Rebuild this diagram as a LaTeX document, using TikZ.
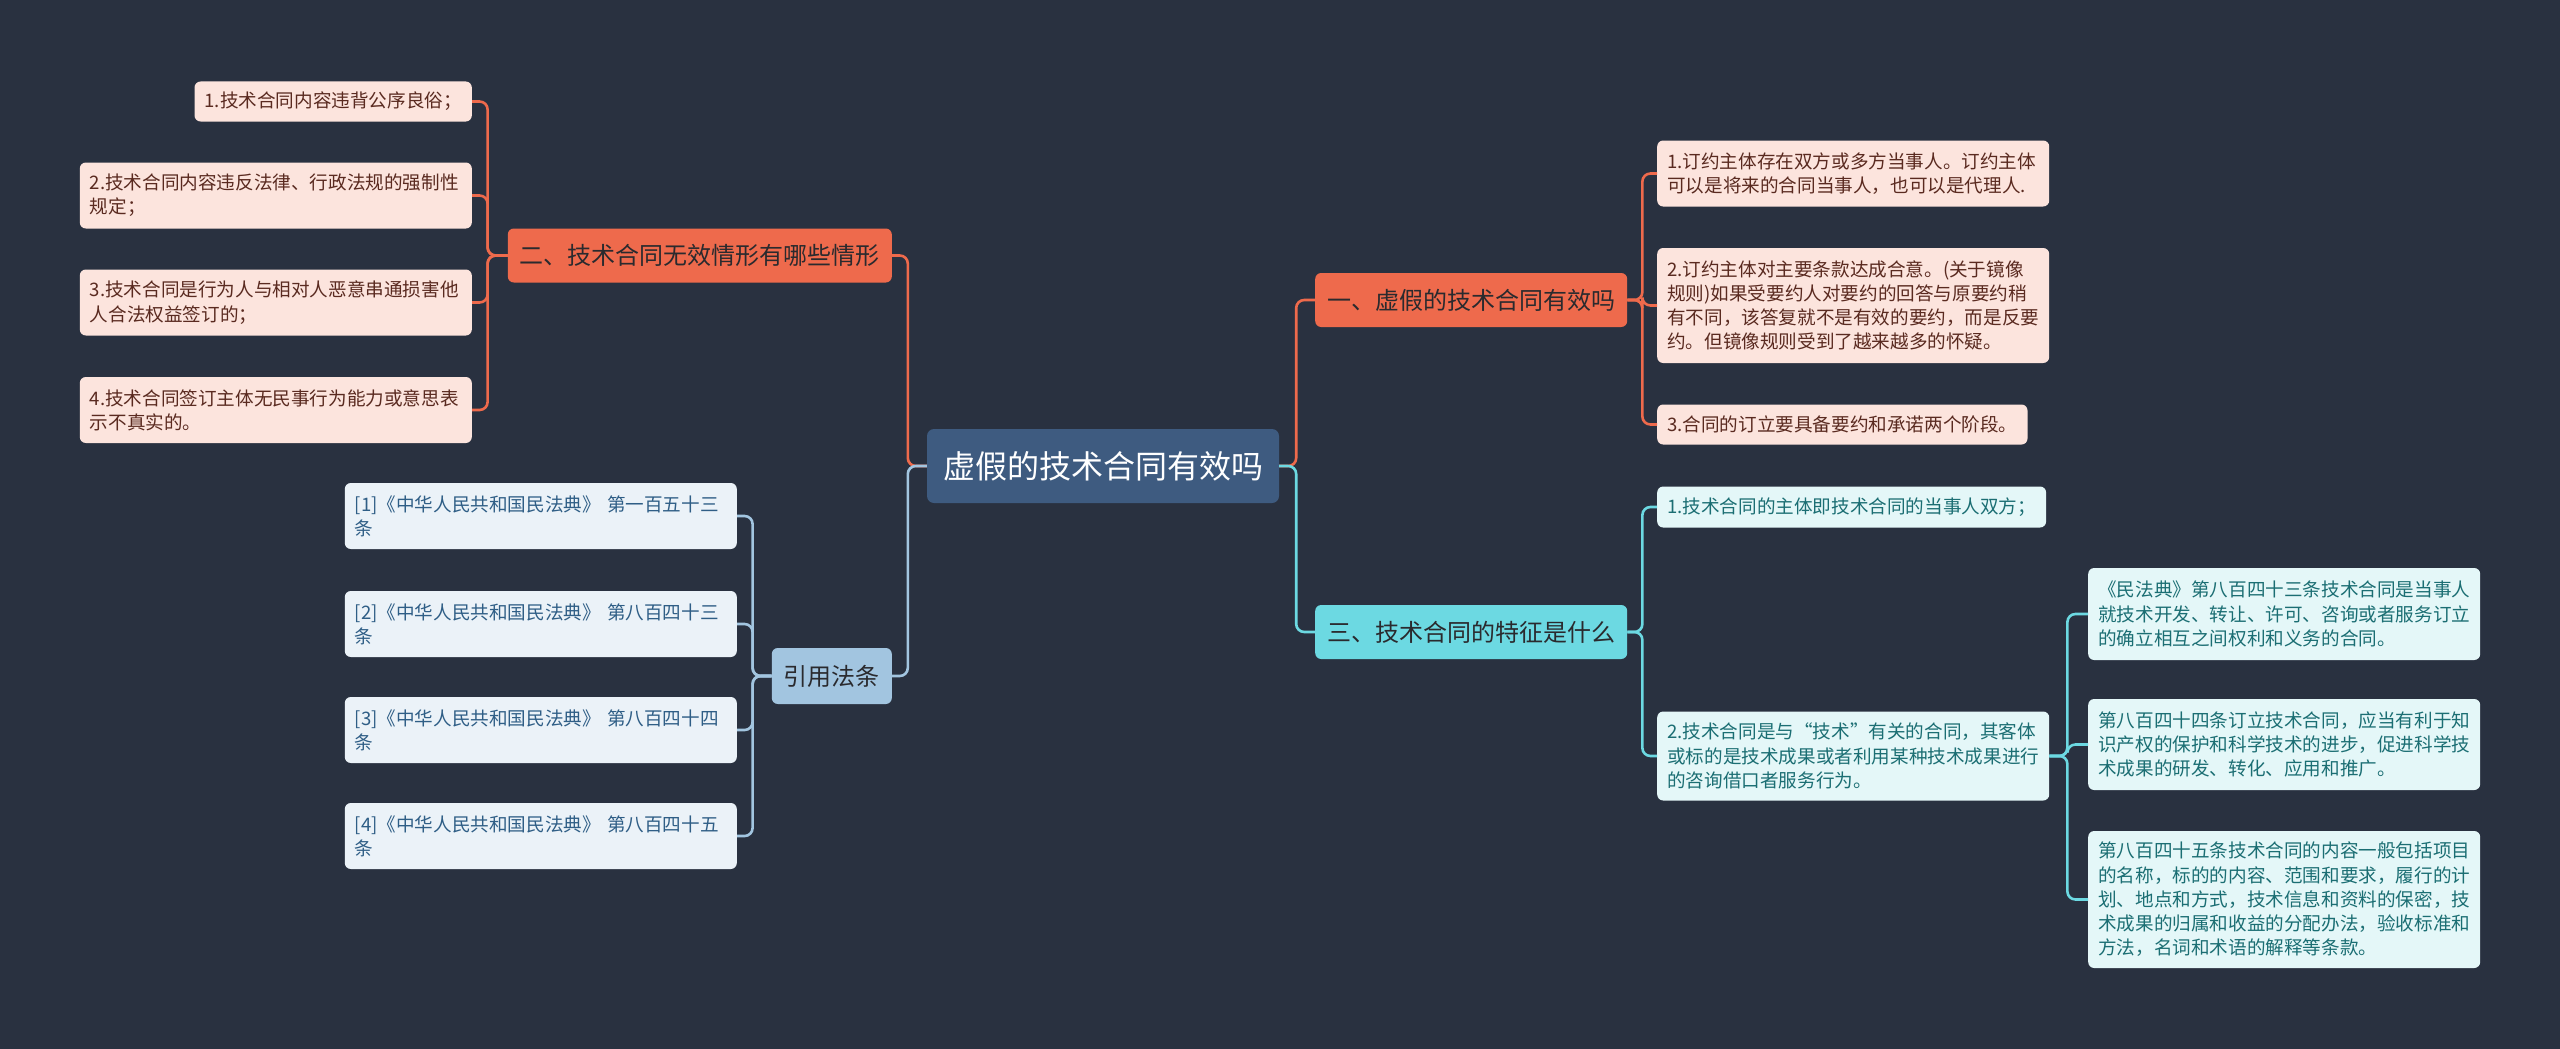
\documentclass[tikz,border=0pt]{standalone}
\usepackage{fontspec}
\newfontfamily\cjkfont{Noto Sans CJK SC}
\definecolor{cbg}{HTML}{293140}
\definecolor{croot}{HTML}{3E5B80}
\definecolor{corange}{HTML}{EE6A4C}
\definecolor{ccyan}{HTML}{6CD9E2}
\definecolor{ccite}{HTML}{A2C5E0}
\definecolor{cpink}{HTML}{FCE4DD}
\definecolor{cmint}{HTML}{E4F7F8}
\definecolor{cpale}{HTML}{EBF2F8}
\definecolor{cink}{HTML}{2A2A2E}
\definecolor{cbrown}{HTML}{5A2A20}
\definecolor{cteal}{HTML}{1B6E73}
\definecolor{cblue}{HTML}{2F5E86}

\begin{document}
\begin{tikzpicture}[
  x=1pt, y=-1pt,
  rootbox/.style={fill=croot, text=white, rounded corners=7pt, inner xsep=16pt,
                  minimum height=74pt, font=\cjkfont\fontsize{32}{38}\selectfont},
  topic/.style={rounded corners=6pt, inner xsep=12pt, minimum height=54pt,
                font=\cjkfont\fontsize{24}{30}\selectfont},
  redtopic/.style={topic, fill=corange, text=cink},
  cyantopic/.style={topic, fill=ccyan, text=cink},
  citetopic/.style={topic, fill=ccite, text=cink, minimum height=56pt},
  leaf/.style={rounded corners=6pt, inner xsep=10pt, inner ysep=0pt, align=left,
               font=\cjkfont\fontsize{18.6}{24.2}\selectfont},
  wide/.style={text width=372pt},
  redleaf/.style={leaf, fill=cpink, text=cbrown},
  cyanleaf/.style={leaf, fill=cmint, text=cteal},
  citeleaf/.style={leaf, fill=cpale, text=cblue},
  link/.style={line width=2.6pt, rounded corners=8pt},
  redlink/.style={link, draw=corange},
  cyanlink/.style={link, draw=ccyan},
  citelink/.style={link, draw=ccite}
]
\fill[cbg] (0,0) rectangle (2560,1049);
\useasboundingbox (0,0) rectangle (2560,1049);

% root
\node[rootbox] (root) at (1103,466) {虚假的技术合同有效吗};

% main topics
\node[redtopic, anchor=west] (b1) at (1315,300) {一、虚假的技术合同有效吗};
\node[cyantopic, anchor=west] (b3) at (1315,632) {三、技术合同的特征是什么};
\node[redtopic, anchor=east] (b2) at (892,255.5) {二、技术合同无效情形有哪些情形};
\node[citetopic, anchor=east] (cite) at (892,676) {引用法条};

% topic one
\node[redleaf, wide, anchor=west, minimum height=66pt] (l11) at (1657,173.5) {1.订约主体存在双方或多方当事人。订约主体\\可以是将来的合同当事人，也可以是代理人.};
\node[redleaf, wide, anchor=west, minimum height=115pt] (l12) at (1657,305.5) {2.订约主体对主要条款达成合意。(关于镜像\\规则)如果受要约人对要约的回答与原要约稍\\有不同，该答复就不是有效的要约，而是反要\\约。但镜像规则受到了越来越多的怀疑。};
\node[redleaf, anchor=west, minimum height=40pt] (l13) at (1657,424.5) {3.合同的订立要具备要约和承诺两个阶段。};

% topic two
\node[redleaf, anchor=east, minimum height=40pt] (l21) at (472,101.5) {1.技术合同内容违背公序良俗；};
\node[redleaf, wide, anchor=east, minimum height=66pt] (l22) at (472,195.5) {2.技术合同内容违反法律、行政法规的强制性\\规定；};
\node[redleaf, wide, anchor=east, minimum height=66pt] (l23) at (472,302.5) {3.技术合同是行为人与相对人恶意串通损害他\\人合法权益签订的；};
\node[redleaf, wide, anchor=east, minimum height=66pt] (l24) at (472,410) {4.技术合同签订主体无民事行为能力或意思表\\示不真实的。};

% topic three
\node[cyanleaf, anchor=west, minimum height=41pt] (l31) at (1657,507) {1.技术合同的主体即技术合同的当事人双方；};
\node[cyanleaf, wide, anchor=west, minimum height=89pt] (l32) at (1657,756) {2.技术合同是与“技术”有关的合同，其客体\\或标的是技术成果或者利用某种技术成果进行\\的咨询借口者服务行为。};
\node[cyanleaf, wide, anchor=west, minimum height=92pt] (s1) at (2088,614) {《民法典》第八百四十三条技术合同是当事人\\就技术开发、转让、许可、咨询或者服务订立\\的确立相互之间权利和义务的合同。};
\node[cyanleaf, wide, anchor=west, minimum height=91pt] (s2) at (2088,744.5) {第八百四十四条订立技术合同，应当有利于知\\识产权的保护和科学技术的进步，促进科学技\\术成果的研发、转化、应用和推广。};
\node[cyanleaf, wide, anchor=west, minimum height=137pt] (s3) at (2088,899.5) {第八百四十五条技术合同的内容一般包括项目\\的名称，标的的内容、范围和要求，履行的计\\划、地点和方式，技术信息和资料的保密，技\\术成果的归属和收益的分配办法，验收标准和\\方法，名词和术语的解释等条款。};

% cited articles
\node[citeleaf, wide, anchor=east, minimum height=66pt] (r1) at (737,516) {[1]《中华人民共和国民法典》~第一百五十三\\条};
\node[citeleaf, wide, anchor=east, minimum height=66pt] (r2) at (737,624) {[2]《中华人民共和国民法典》~第八百四十三\\条};
\node[citeleaf, wide, anchor=east, minimum height=66pt] (r3) at (737,730) {[3]《中华人民共和国民法典》~第八百四十四\\条};
\node[citeleaf, wide, anchor=east, minimum height=66pt] (r4) at (737,836) {[4]《中华人民共和国民法典》~第八百四十五\\条};

% links
\draw[redlink] (root.east) -- ++(17,0) |- (b1.west);
\draw[cyanlink] (root.east) -- ++(17,0) |- (b3.west);
\draw[redlink] (root.west) -- ++(-19,0) |- (b2.east);
\draw[citelink] (root.west) -- ++(-19,0) |- (cite.east);

\draw[redlink] (b1.east) -- ++(15,0) |- (l11.west);
\draw[redlink] (b1.east) -- ++(15,0) |- (l12.west);
\draw[redlink] (b1.east) -- ++(15,0) |- (l13.west);

\draw[redlink] (b2.west) -- ++(-20,0) |- (l21.east);
\draw[redlink] (b2.west) -- ++(-20,0) |- (l22.east);
\draw[redlink] (b2.west) -- ++(-20,0) |- (l23.east);
\draw[redlink] (b2.west) -- ++(-20,0) |- (l24.east);

\draw[cyanlink] (b3.east) -- ++(15,0) |- (l31.west);
\draw[cyanlink] (b3.east) -- ++(15,0) |- (l32.west);
\draw[cyanlink] (l32.east) -- ++(18,0) |- (s1.west);
\draw[cyanlink] (l32.east) -- ++(18,0) |- (s2.west);
\draw[cyanlink] (l32.east) -- ++(18,0) |- (s3.west);

\draw[citelink] (cite.west) -- ++(-19,0) |- (r1.east);
\draw[citelink] (cite.west) -- ++(-19,0) |- (r2.east);
\draw[citelink] (cite.west) -- ++(-19,0) |- (r3.east);
\draw[citelink] (cite.west) -- ++(-19,0) |- (r4.east);
\end{tikzpicture}
\end{document}
